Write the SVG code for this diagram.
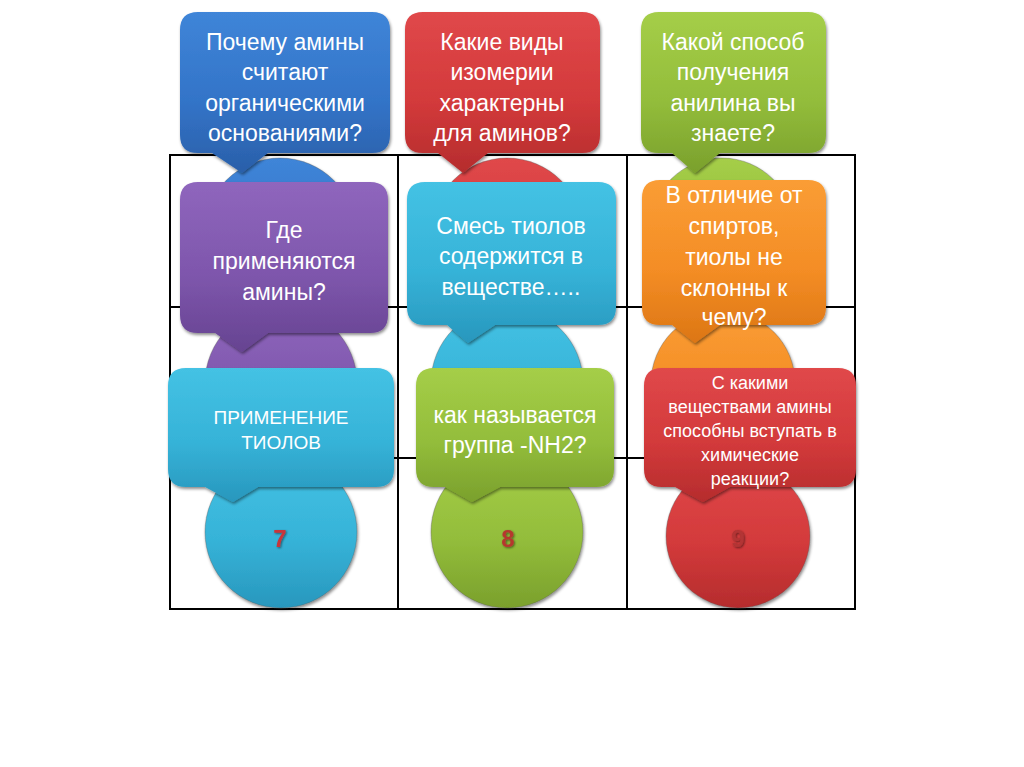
<svg xmlns="http://www.w3.org/2000/svg" width="1024" height="767" viewBox="0 0 1024 767">
<defs>
<filter id="sh" x="-10%" y="-10%" width="120%" height="130%"><feDropShadow dx="1" dy="2" stdDeviation="1.8" flood-color="#000" flood-opacity="0.45"/></filter>
<filter id="nsh" x="-30%" y="-30%" width="160%" height="160%"><feDropShadow dx="1" dy="1" stdDeviation="0.8" flood-color="#000" flood-opacity="0.5"/></filter>
<linearGradient id="gBlue" x1="0" y1="0" x2="0" y2="1"><stop offset="0" stop-color="#3f85d8"/><stop offset="0.55" stop-color="#3374c8"/><stop offset="1" stop-color="#2a5fa9"/></linearGradient>
<linearGradient id="gRed" x1="0" y1="0" x2="0" y2="1"><stop offset="0" stop-color="#e0484a"/><stop offset="0.55" stop-color="#d33a3b"/><stop offset="1" stop-color="#b52c2d"/></linearGradient>
<linearGradient id="gGreen" x1="0" y1="0" x2="0" y2="1"><stop offset="0" stop-color="#a5ce48"/><stop offset="0.55" stop-color="#93bd3b"/><stop offset="1" stop-color="#7aa02c"/></linearGradient>
<linearGradient id="gPurple" x1="0" y1="0" x2="0" y2="1"><stop offset="0" stop-color="#8f66bd"/><stop offset="0.55" stop-color="#7e56ac"/><stop offset="1" stop-color="#664391"/></linearGradient>
<linearGradient id="gCyan" x1="0" y1="0" x2="0" y2="1"><stop offset="0" stop-color="#44c2e4"/><stop offset="0.55" stop-color="#36b3d8"/><stop offset="1" stop-color="#2897bd"/></linearGradient>
<linearGradient id="gOrange" x1="0" y1="0" x2="0" y2="1"><stop offset="0" stop-color="#fa9d35"/><stop offset="0.55" stop-color="#f48d25"/><stop offset="1" stop-color="#dc7614"/></linearGradient>
</defs>
<style>
.grid{fill:none;stroke:#000;stroke-width:2}
.t{font-family:"Liberation Sans",Arial,sans-serif;fill:#fff;text-anchor:middle}
.t23{font-size:23px}
.t19{font-size:19px}
.t18{font-size:18px}
.num{font-family:"Liberation Sans",Arial,sans-serif;font-size:24px;font-weight:bold;text-anchor:middle;filter:url(#nsh)}
.shape{filter:url(#sh)}
.circ{stroke:#555;stroke-opacity:0.35;stroke-width:1}
</style>
<rect width="1024" height="767" fill="#fff"/>
<g id="grid">
<rect class="grid" x="170" y="155" width="685" height="454"/>
<line class="grid" x1="398" y1="155" x2="398" y2="609"/>
<line class="grid" x1="627" y1="155" x2="627" y2="609"/>
<line class="grid" x1="170" y1="307" x2="855" y2="307"/>
<line class="grid" x1="170" y1="458" x2="855" y2="458"/>
</g>
<g id="circles">
<g id="circle1"><circle class="shape circ" cx="280" cy="234" r="76" fill="url(#gBlue)"/></g>
<g id="circle2"><circle class="shape circ" cx="507" cy="234" r="76" fill="url(#gRed)"/></g>
<g id="circle3"><circle class="shape circ" cx="722" cy="230" r="72" fill="url(#gGreen)"/></g>
<g id="circle4"><circle class="shape circ" cx="281" cy="383" r="76" fill="url(#gPurple)"/></g>
<g id="circle5"><circle class="shape circ" cx="507" cy="383" r="76" fill="url(#gCyan)"/></g>
<g id="circle6"><circle class="shape circ" cx="723" cy="383" r="72" fill="url(#gOrange)"/></g>
<g id="circle7"><circle class="shape circ" cx="281" cy="532" r="76" fill="url(#gCyan)"/><text class="num" x="280" y="547" fill="#c8343a">7</text></g>
<g id="circle8"><circle class="shape circ" cx="507" cy="532" r="76" fill="url(#gGreen)"/><text class="num" x="508" y="547" fill="#b5392f">8</text></g>
<g id="circle9"><circle class="shape circ" cx="738" cy="536" r="72" fill="url(#gRed)"/><text class="num" x="738" y="547" fill="#b23434">9</text></g>
</g>
<g id="connectors"/>
<g id="q1">
<path class="shape" fill="url(#gBlue)" d="M198,12 H372 Q390,12 390,30 V135 Q390,153 372,153 H268 L242,173 L212,153 H198 Q180,153 180,135 V30 Q180,12 198,12 Z"/>
<text class="t t23"><tspan x="285" y="50">Почему амины</tspan><tspan x="285" y="80">считают</tspan><tspan x="285" y="111">органическими</tspan><tspan x="285" y="141">основаниями?</tspan></text>
</g>
<g id="q2">
<path class="shape" fill="url(#gRed)" d="M423,12 H582 Q600,12 600,30 V135 Q600,153 582,153 H488 L463,173 L438,153 H423 Q405,153 405,135 V30 Q405,12 423,12 Z"/>
<text class="t t23"><tspan x="502" y="50">Какие виды</tspan><tspan x="502" y="80">изомерии</tspan><tspan x="502" y="111">характерны</tspan><tspan x="502" y="141">для аминов?</tspan></text>
</g>
<g id="q3">
<path class="shape" fill="url(#gGreen)" d="M659,12 H808 Q826,12 826,30 V135 Q826,153 808,153 H720 L695,173 L672,153 H659 Q641,153 641,135 V30 Q641,12 659,12 Z"/>
<text class="t t23"><tspan x="733" y="50">Какой способ</tspan><tspan x="733" y="80">получения</tspan><tspan x="733" y="111">анилина вы</tspan><tspan x="733" y="141">знаете?</tspan></text>
</g>
<g id="q4">
<path class="shape" fill="url(#gPurple)" d="M198,182 H370 Q388,182 388,200 V315 Q388,333 370,333 H268 L242,352 L215,333 H198 Q180,333 180,315 V200 Q180,182 198,182 Z"/>
<text class="t t23"><tspan x="284" y="238">Где</tspan><tspan x="284" y="269">применяются</tspan><tspan x="284" y="300">амины?</tspan></text>
</g>
<g id="q5">
<path class="shape" fill="url(#gCyan)" d="M425,182 H598 Q616,182 616,200 V307 Q616,325 598,325 H495 L468,343 L447,325 H425 Q407,325 407,307 V200 Q407,182 425,182 Z"/>
<text class="t t23"><tspan x="511" y="234">Смесь тиолов</tspan><tspan x="511" y="264">содержится в</tspan><tspan x="511" y="295">веществе…..</tspan></text>
</g>
<g id="q6">
<path class="shape" fill="url(#gOrange)" d="M660,180 H808 Q826,180 826,198 V307 Q826,325 808,325 H720 L695,343 L672,325 H660 Q642,325 642,307 V198 Q642,180 660,180 Z"/>
<text class="t t23"><tspan x="734" y="203">В отличие от</tspan><tspan x="734" y="234">спиртов,</tspan><tspan x="734" y="265">тиолы не</tspan><tspan x="734" y="296">склонны к</tspan><tspan x="734" y="325">чему?</tspan></text>
</g>
<g id="q7">
<path class="shape" fill="url(#gCyan)" d="M186,368 H376 Q394,368 394,386 V469 Q394,487 376,487 H258 L233,502 L205,487 H186 Q168,487 168,469 V386 Q168,368 186,368 Z"/>
<text class="t t19"><tspan x="281" y="424">ПРИМЕНЕНИЕ</tspan><tspan x="281" y="449">ТИОЛОВ</tspan></text>
</g>
<g id="q8">
<path class="shape" fill="url(#gGreen)" d="M434,368 H596 Q614,368 614,386 V469 Q614,487 596,487 H500 L472,502 L445,487 H434 Q416,487 416,469 V386 Q416,368 434,368 Z"/>
<text class="t t23"><tspan x="515" y="423">как называется</tspan><tspan x="515" y="453">группа -NH2?</tspan></text>
</g>
<g id="q9">
<path class="shape" fill="url(#gRed)" d="M662,368 H838 Q856,368 856,386 V469 Q856,487 838,487 H730 L703,502 L675,487 H662 Q644,487 644,469 V386 Q644,368 662,368 Z"/>
<text class="t t18"><tspan x="750" y="389">С какими</tspan><tspan x="750" y="413">веществами амины</tspan><tspan x="750" y="437">способны вступать в</tspan><tspan x="750" y="461">химические</tspan><tspan x="750" y="485">реакции?</tspan></text>
</g>
</svg>
